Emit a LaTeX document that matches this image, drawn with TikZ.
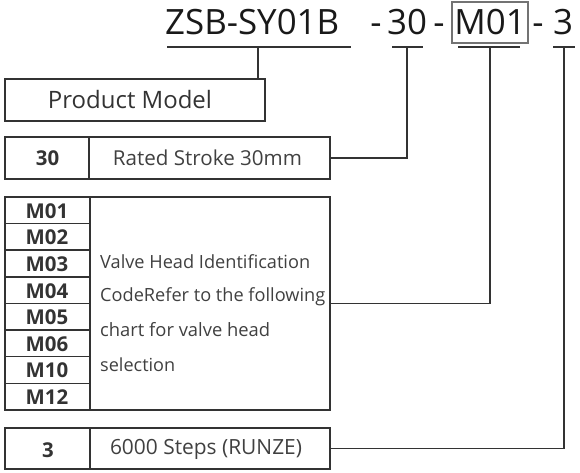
\documentclass[tikz,border=0pt]{standalone}
\usepackage{fontspec}
\usepackage{graphicx}
\setmainfont{Open Sans}
\newcommand\fitw[2]{\resizebox{#1bp}{!}{#2}}
\begin{document}
\begin{tikzpicture}[x=1bp,y=-1bp,
  ln/.style={draw=black!80, line width=1.4bp},
  title/.style={inner sep=0pt, font=\fontsize{35}{38}\selectfont, text=black!90},
  lbl/.style={inner sep=0pt, font=\fontsize{20}{24}\selectfont, text=black!75},
  code/.style={inner sep=0pt, font=\fontsize{20.5}{24}\selectfont\bfseries, text=black!80},
  bx/.style={draw=black!80, line width=1.4bp}]
\useasboundingbox (0,0) rectangle (580,473);
% title
\node[title, anchor=base west] (t1) at (165,35) {ZSB-SY01B};
\node[title, anchor=base] (d1) at (376,35) {-};
\node[title, anchor=base] (t2) at (407,35) {30};
\node[title, anchor=base] (d2) at (439,35) {-};
\node[title, anchor=base] (t3) at (490,35) {M01};
\node[title, anchor=base] (d3) at (538,35) {-};
\node[title, anchor=base] (t4) at (563,35) {3};
\node[draw=black!55, line width=1.2bp, inner sep=0pt, minimum width=76bp, minimum height=41bp] (t3box) at (490,22.5) {};
% underlines
\coordinate (u1a) at (167,47); \coordinate (u1b) at (351,47);
\coordinate (u2a) at (392,47); \coordinate (u2b) at (423,47);
\coordinate (u3a) at (458,47); \coordinate (u3b) at (520,47);
\coordinate (u4a) at (553,47); \coordinate (u4b) at (575,47);
\draw[ln] (u1a) -- (u1b);
\draw[ln] (u2a) -- (u2b);
\draw[ln] (u3a) -- (u3b);
\draw[ln] (u4a) -- (u4b);
% product model box
\node[bx, inner sep=0pt, minimum width=260bp, minimum height=42bp] (pm) at (135,100) {};
\node[inner sep=0pt, font=\fontsize{24}{28}\selectfont, text=black!80] (pmt) at (130,100) {\fitw{164}{Product Model}};
% rated stroke
\node[bx, inner sep=0pt, minimum width=84bp, minimum height=42bp] (rsc) at (47,158) {};
\node[bx, inner sep=0pt, minimum width=241bp, minimum height=42bp] (rsd) at (209.5,158) {};
\node[code] (rsct) at (47.5,158) {30};
\node[lbl] (rsdt) at (207.5,158) {\fitw{189}{Rated Stroke 30mm}};
% M box
\node[bx, inner sep=0pt, minimum width=240bp, minimum height=213bp] (md) at (210,303.5) {};
\foreach \i/\t in {0/M01,1/M02,2/M03,3/M04,4/M05,5/M06,6/M10,7/M12}{
  \node[bx, inner sep=0pt, minimum width=85bp, minimum height=26.6bp] (m\i) at (47.5,{210.3+26.6*\i}) {};
  \node[code] (mt\i) at (47,{211+26.6*\i}) {\t};
}
\node[lbl, anchor=west] (v1) at (100,262) {\fitw{210}{Valve Head Identification}};
\node[lbl, anchor=west] (v2) at (100,297) {\fitw{225}{CodeRefer to the following}};
\node[lbl, anchor=west] (v3) at (100,330) {\fitw{170}{chart for valve head}};
\node[lbl, anchor=west] (v4) at (100,365) {\fitw{75}{selection}};
% 3 box
\node[bx, inner sep=0pt, minimum width=85bp, minimum height=41bp] (sc) at (47.5,448.5) {};
\node[bx, inner sep=0pt, minimum width=240bp, minimum height=41bp] (sd) at (210,448.5) {};
\node[code] (sct) at (48,450) {3};
\node[lbl] (sdt) at (206,449) {\fitw{192}{6000 Steps (RUNZE)}};
% connectors
\coordinate (c1) at (258,47);
\coordinate (c2) at (407,47);
\coordinate (c3) at (490,47);
\coordinate (c4) at (564,47);
\draw[ln] (c1) -- (c1 |- pm.north);
\draw[ln] (c2) |- (rsd.east);
\draw[ln] (c3) |- (md.east);
\draw[ln] (c4) |- (sd.east);
\end{tikzpicture}
\end{document}
